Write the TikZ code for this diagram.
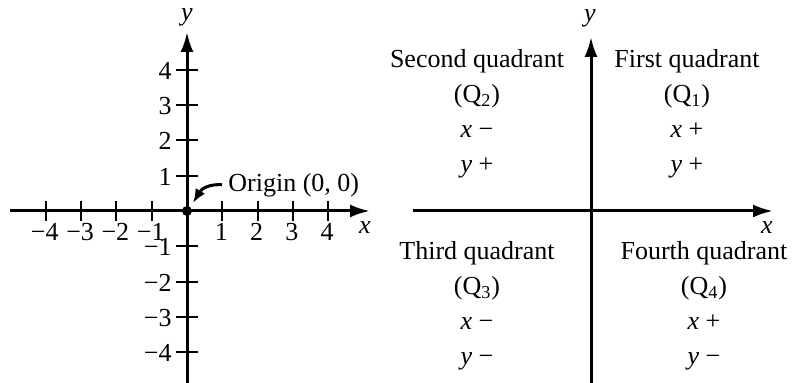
\documentclass[tikz,border=0pt]{standalone}
\usepackage{fontspec}
\setmainfont{Liberation Serif}
\usetikzlibrary{arrows.meta,calc}

\begin{document}
\begin{tikzpicture}[
  x=0.5pt, y=0.5pt,
  every node/.style={font=\fontsize{13}{17.5}\selectfont, inner sep=1pt},
  axis/.style={line width=1.5pt, -{Latex[length=10pt, width=6.5pt]}},
  tick/.style={line width=1pt},
  qlabel/.style={align=center},
  pointer/.style={line width=1.5pt, -{Latex[length=7pt, width=5.5pt]}}
]
\useasboundingbox (0,0) rectangle (793,383);

% Left plane: numbered axes
\coordinate (O) at (187,172);
\draw[axis] (10,172) -- (370,172);
\draw[axis] (187,0) -- (187,351);
\foreach \k in {-4,-3,-2,-1,1,2,3,4} {
  \draw[tick] ($(O)+(\k*35.3,-10)$) -- ++(0,20);
  \draw[tick] ($(O)+(-11,\k*35.3)$) -- ++(22,0);
}
\foreach \k/\t in {-4/−4,-3/−3,-2/−2,-1/−1,1/1,2/2,3/3,4/4}
  \node (xt\k) at ($(O)+(\k*35.3-1,-21)$) {\t};
\foreach \k/\t in {-4/−4,-3/−3,-2/−2,-1/−1,1/1,2/2,3/3,4/4}
  \node[anchor=east] (yt\k) at ($(O)+(-13,\k*35.3-1)$) {\t};
\node (xl) at (365,155) {\textit{x}};
\node (yl) at (187,366) {\textit{y}};

% Origin
\fill (O) circle (5);
\node[anchor=west] (orig) at (226,198) {Origin (0, 0)};
\coordinate (origtip) at (193,180);
\draw[pointer, shorten <=2pt] (orig.west) .. controls (210,199) and (202,195) .. (origtip);

% Right plane: quadrants
\draw[axis] (413,172) -- (773,172);
\draw[axis] (591,0) -- (591,346);
\node (xr) at (767,155) {\textit{x}};
\node (yr) at (590,365) {\textit{y}};

\node[qlabel] (q2) at (477,269) {Second quadrant\\(Q\textsubscript{2})\\\textit{x} −\\\textit{y} +};
\node[qlabel] (q1) at (687,269) {First quadrant\\(Q\textsubscript{1})\\\textit{x} +\\\textit{y} +};
\node[qlabel] (q3) at (477,77) {Third quadrant\\(Q\textsubscript{3})\\\textit{x} −\\\textit{y} −};
\node[qlabel] (q4) at (704,77) {Fourth quadrant\\(Q\textsubscript{4})\\\textit{x} +\\\textit{y} −};

\end{tikzpicture}
\end{document}
